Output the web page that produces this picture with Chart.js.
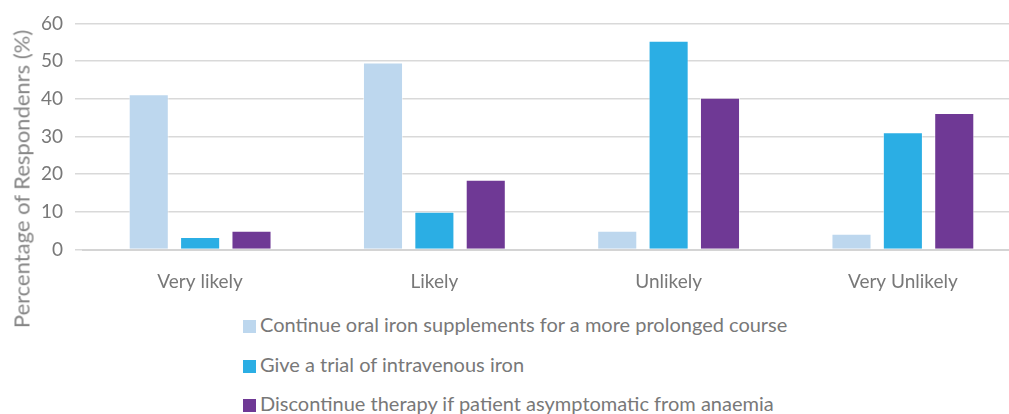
<!DOCTYPE html>
<html>
<head>
<meta charset="utf-8">
<script src="https://cdn.jsdelivr.net/npm/chart.js@4/dist/chart.umd.min.js"></script>
<style>
  html, body { margin: 0; padding: 0; background: #fff; overflow: hidden; width: 1009px; height: 414px; }
  #wrap { position: absolute; left: 0; top: 0; width: 1020px; height: 300px; }
  #legend { position: absolute; left: 243px; top: 305px; list-style: none; margin: 0; padding: 0;
    font-family: Lato, sans-serif; font-size: 20px; color: #787878; }
  #legend li { height: 39.5px; line-height: 39.5px; white-space: nowrap; }
  #legend span { display: inline-block; width: 13px; height: 13px; margin-right: 4px; vertical-align: -1px; }
  #ytitle { position: absolute; left: 21px; top: 179px; transform: translate(-50%, -50%) rotate(-90deg);
    font-family: Lato, sans-serif; font-size: 22px; color: #858585; white-space: nowrap; }
</style>
</head>
<body>
<div id="wrap"><canvas id="chart"></canvas></div>
<div id="ytitle">Percentage of Respondenrs (%)</div>
<ul id="legend"></ul>
<script>
const categories = ["Very likely", "Likely", "Unlikely", "Very Unlikely"];
const seriesNames = [
  "Continue oral iron supplements for a more prolonged course",
  "Give a trial of intravenous iron",
  "Discontinue therapy if patient asymptomatic from anaemia"
];
const continueOral = [41.2, 49.6, 5.0, 4.2];
const trialIV = [3.3, 10.0, 55.4, 31.1];
const discontinue = [5.0, 18.5, 40.3, 36.2];
const colors = ["#BDD7EE", "#2BAEE4", "#6F3995"];

const font = "Lato, sans-serif";
const grey = "#787878";

const datasets = [continueOral, trialIV, discontinue].map((d, i) => ({
  label: seriesNames[i],
  data: d,
  backgroundColor: colors[i],
  borderColor: "rgba(255,255,255,0.5)",
  borderWidth: 1,
  categoryPercentage: 0.658,
  barPercentage: 0.78
}));

new Chart(document.getElementById("chart"), {
  type: "bar",
  data: { labels: categories, datasets },
  options: {
    responsive: true,
    maintainAspectRatio: false,
    animation: false,
    layout: { padding: { top: 21, right: 0, left: 0, bottom: 0 } },
    plugins: {
      legend: { display: false },
      tooltip: { enabled: false }
    },
    scales: {
      x: {
        grid: { display: false },
        border: { color: "#d4d4d4", width: 2 },
        ticks: { color: grey, font: { family: font, size: 19 }, padding: 13 },
        afterFit: s => { s.height = 50.5; }
      },
      y: {
        min: 0,
        max: 60,
        ticks: { stepSize: 10, color: grey, font: { family: font, size: 19 }, padding: 12 },
        grid: { color: "#d9d9d9", lineWidth: 1.5 },
        border: { display: false },
        afterFit: s => { s.width = 83; }
      }
    }
  }
});

const legend = document.getElementById("legend");
seriesNames.forEach((name, i) => {
  const li = document.createElement("li");
  const box = document.createElement("span");
  box.style.background = colors[i];
  li.appendChild(box);
  li.appendChild(document.createTextNode(name));
  legend.appendChild(li);
});
</script>
</body>
</html>
